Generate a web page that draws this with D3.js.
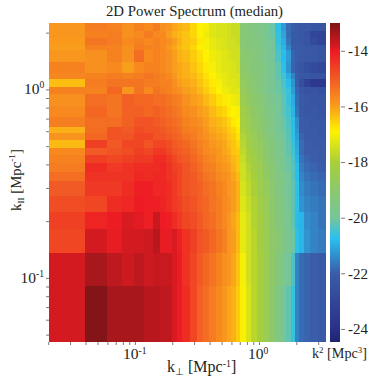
<!DOCTYPE html>
<html lang="en">

	<head>
		<meta charset="utf-8">
		<title>2D Power Spectrum (median)</title>
		<script src="https://d3js.org/d3.v7.min.js"></script>
		<style>
			html, body { margin: 0; padding: 0; background: #fff; }
			svg { display: block; }
			text { font-family: "Liberation Serif", serif; fill: #231f20; }
			.axis path { display: none; }
			.axis line { stroke: #58595b; stroke-width: 0.8; }
		</style>
	</head>

	<body>
		<chart></chart>
		<script>
			// bin edges of the heat map, k_perp left to right, k_par top to bottom
			const kPerpEdges = [0.0203, 0.0396, 0.0594, 0.0792, 0.099, 0.119, 0.139, 0.158, 0.178, 0.198, 0.218, 0.238, 0.277, 0.317, 0.356, 0.396, 0.45, 0.5, 0.55, 0.6, 0.65, 0.703, 0.78, 0.87, 0.97, 1.08, 1.2, 1.35, 1.5, 1.65, 1.8, 1.95, 2.1, 2.3, 2.6, 3.0, 3.47]
			const kParEdges = [2.25, 2.04, 1.876, 1.722, 1.62, 1.40, 1.223, 1.137, 1.031, 0.946, 0.818, 0.715, 0.632, 0.588, 0.540, 0.490, 0.449, 0.407, 0.365, 0.327, 0.272, 0.224, 0.182, 0.136, 0.0907, 0.0457]

			// log10 power, one row per k_par bin (top row first)
			const power = [
				[-15.9,-15.5,-15.6,-15.8,-15.6,-15.7,-15.5,-15.8,-15.9,-16.1,-16.2,-16.3,-16.6,-16.9,-17.0,-17.3,-17.4,-17.4,-17.5,-17.6,-17.6,-19.2,-19.3,-19.5,-19.6,-19.8,-20.1,-20.7,-21.2,-21.8,-22.0,-22.1,-22.2,-22.2,-22.3,-22.3],
				[-15.9,-15.6,-15.5,-15.8,-15.7,-15.5,-15.7,-15.7,-16.0,-16.2,-16.3,-16.4,-16.6,-16.9,-17.1,-17.3,-17.4,-17.4,-17.5,-17.6,-17.6,-19.2,-19.3,-19.4,-19.6,-19.8,-20.1,-20.6,-21.1,-21.8,-22.1,-22.1,-22.2,-22.4,-23.0,-23.1],
				[-15.95,-15.4,-15.5,-15.7,-15.6,-15.7,-15.6,-15.7,-15.8,-16.0,-16.2,-16.4,-16.5,-16.8,-17.0,-17.2,-17.3,-17.4,-17.5,-17.5,-17.6,-19.2,-19.3,-19.4,-19.5,-19.8,-20.0,-20.6,-21.0,-21.7,-22.1,-22.1,-22.2,-22.3,-22.8,-23.1],
				[-16.0,-15.6,-15.6,-15.8,-15.5,-15.6,-15.6,-15.7,-15.9,-16.1,-16.3,-16.4,-16.6,-16.9,-17.0,-17.2,-17.3,-17.4,-17.5,-17.5,-17.5,-19.1,-19.3,-19.4,-19.5,-19.7,-20.0,-20.5,-20.9,-21.5,-22.0,-22.1,-22.1,-22.2,-22.2,-22.3],
				[-15.9,-15.8,-15.6,-15.8,-15.3,-15.7,-15.6,-15.7,-15.8,-16.0,-16.2,-16.3,-16.5,-16.7,-16.9,-17.1,-17.2,-17.3,-17.4,-17.5,-17.5,-19.0,-19.2,-19.3,-19.5,-19.7,-20.0,-20.4,-20.8,-21.2,-21.9,-22.0,-22.1,-22.2,-22.2,-22.3],
				[-15.6,-15.8,-15.7,-16.0,-15.7,-15.6,-15.6,-15.7,-15.8,-16.0,-16.1,-16.2,-16.4,-16.6,-16.8,-17.0,-17.2,-17.3,-17.3,-17.4,-17.5,-18.9,-19.1,-19.3,-19.4,-19.6,-19.9,-20.2,-20.7,-21.3,-21.9,-22.1,-22.3,-22.6,-22.8,-22.9],
				[-15.65,-15.6,-15.5,-15.6,-15.5,-15.4,-15.5,-15.6,-15.7,-15.9,-16.1,-16.2,-16.3,-16.5,-16.7,-16.9,-17.1,-17.2,-17.3,-17.4,-17.4,-18.8,-19.0,-19.2,-19.4,-19.6,-19.9,-20.2,-20.5,-21.0,-21.5,-22.0,-22.2,-22.2,-22.3,-22.4],
				[-16.35,-15.5,-15.4,-15.4,-15.4,-15.5,-15.5,-15.6,-15.6,-15.8,-16.0,-16.1,-16.2,-16.4,-16.6,-16.8,-17.0,-17.2,-17.3,-17.3,-17.4,-18.7,-19.0,-19.2,-19.4,-19.6,-19.9,-20.1,-20.4,-20.8,-21.3,-22.0,-22.6,-23.2,-23.6,-23.7],
				[-15.6,-15.6,-15.2,-15.9,-15.4,-15.7,-15.4,-15.5,-15.6,-15.7,-15.8,-16.0,-16.1,-16.3,-16.5,-16.7,-16.9,-17.1,-17.2,-17.3,-17.3,-18.6,-18.9,-19.1,-19.4,-19.6,-19.9,-20.1,-20.3,-20.6,-21.2,-21.9,-22.2,-22.4,-22.4,-22.5],
				[-15.8,-15.3,-15.4,-15.1,-15.2,-15.2,-15.3,-15.3,-15.4,-15.5,-15.6,-15.8,-16.0,-16.1,-16.3,-16.5,-16.7,-16.8,-17.0,-17.1,-17.2,-18.4,-18.8,-19.0,-19.2,-19.5,-19.8,-20.0,-20.2,-20.6,-21.0,-21.8,-22.1,-22.2,-22.3,-22.3],
				[-15.7,-15.2,-15.4,-15.1,-15.1,-15.2,-15.1,-15.2,-15.3,-15.4,-15.5,-15.7,-15.8,-16.0,-16.1,-16.3,-16.5,-16.6,-16.8,-16.9,-17.0,-18.2,-18.6,-18.9,-19.1,-19.4,-19.7,-20.0,-20.2,-20.5,-20.9,-21.7,-22.1,-22.2,-22.2,-22.3],
				[-15.55,-15.3,-15.3,-15.1,-14.9,-14.9,-15.0,-15.1,-15.2,-15.3,-15.4,-15.6,-15.7,-15.8,-16.0,-16.2,-16.3,-16.4,-16.6,-16.8,-16.9,-18.1,-18.5,-18.8,-19.0,-19.3,-19.6,-19.9,-20.1,-20.4,-20.8,-21.4,-22.0,-22.1,-22.2,-22.2],
				[-16.2,-15.3,-14.9,-15.0,-14.8,-14.9,-14.9,-15.0,-15.1,-15.2,-15.3,-15.5,-15.6,-15.7,-15.9,-16.1,-16.2,-16.3,-16.5,-16.6,-16.8,-18.0,-18.4,-18.7,-19.0,-19.3,-19.6,-19.9,-20.1,-20.3,-20.7,-21.3,-22.0,-22.1,-22.1,-22.2],
				[-15.85,-15.2,-14.9,-14.9,-14.7,-14.7,-14.9,-14.9,-15.0,-15.1,-15.2,-15.4,-15.5,-15.7,-15.8,-16.0,-16.1,-16.2,-16.4,-16.5,-16.7,-17.9,-18.3,-18.6,-18.9,-19.2,-19.5,-19.8,-20.0,-20.3,-20.7,-21.2,-21.9,-22.1,-22.1,-22.2],
				[-16.3,-14.6,-15.0,-14.7,-14.7,-14.9,-14.7,-14.7,-14.8,-15.0,-15.1,-15.2,-15.4,-15.6,-15.7,-15.9,-16.0,-16.1,-16.3,-16.4,-16.6,-17.8,-18.2,-18.5,-18.8,-19.1,-19.4,-19.7,-20.0,-20.2,-20.6,-21.1,-21.8,-22.0,-22.1,-22.1],
				[-15.7,-15.0,-14.9,-14.8,-14.6,-14.7,-14.5,-14.5,-14.7,-14.9,-15.0,-15.1,-15.3,-15.5,-15.7,-15.8,-15.9,-16.1,-16.2,-16.4,-16.5,-17.7,-18.1,-18.4,-18.7,-19.0,-19.4,-19.7,-19.9,-20.2,-20.5,-21.0,-21.8,-22.0,-22.0,-22.1],
				[-15.6,-14.6,-14.7,-14.6,-14.5,-14.5,-14.3,-14.3,-14.5,-14.7,-14.9,-15.0,-15.2,-15.4,-15.6,-15.7,-15.9,-16.0,-16.1,-16.3,-16.4,-17.6,-18.0,-18.3,-18.6,-19.0,-19.3,-19.6,-19.9,-20.1,-20.4,-20.9,-21.7,-21.9,-22.0,-22.1],
				[-15.5,-14.3,-14.5,-14.4,-14.3,-14.3,-14.3,-14.2,-14.4,-14.6,-14.7,-14.9,-15.1,-15.3,-15.5,-15.6,-15.8,-15.9,-16.0,-16.2,-16.4,-17.5,-17.9,-18.2,-18.5,-18.9,-19.2,-19.6,-19.8,-20.1,-20.3,-20.8,-21.6,-21.8,-21.9,-22.0],
				[-15.3,-14.4,-14.4,-14.4,-14.2,-14.3,-14.2,-14.2,-14.4,-14.5,-14.7,-14.9,-15.0,-15.2,-15.4,-15.5,-15.7,-15.8,-15.9,-16.1,-16.3,-17.5,-17.8,-18.1,-18.5,-18.8,-19.2,-19.5,-19.7,-20.0,-20.3,-20.8,-21.5,-21.7,-21.8,-21.9],
				[-15.0,-14.5,-14.5,-14.3,-14.1,-14.1,-14.2,-14.2,-14.3,-14.5,-14.7,-14.9,-15.0,-15.1,-15.3,-15.4,-15.6,-15.7,-15.9,-16.0,-16.2,-17.4,-17.7,-18.0,-18.4,-18.7,-19.1,-19.4,-19.7,-20.0,-20.2,-20.7,-21.4,-21.6,-21.7,-21.8],
				[-14.8,-14.7,-14.3,-14.2,-14.05,-14.1,-14.1,-14.15,-14.3,-14.5,-14.6,-14.8,-14.9,-15.1,-15.2,-15.4,-15.5,-15.7,-15.8,-16.0,-16.2,-17.3,-17.6,-17.9,-18.3,-18.6,-19.0,-19.3,-19.6,-19.9,-20.2,-20.7,-21.3,-21.5,-21.6,-21.7],
				[-14.6,-14.15,-14.05,-13.85,-13.95,-14.1,-13.7,-14.05,-14.1,-14.3,-14.5,-14.7,-14.8,-15.0,-15.2,-15.3,-15.5,-15.7,-15.9,-16.1,-16.3,-17.2,-17.5,-17.9,-18.2,-18.6,-18.9,-19.3,-19.6,-19.8,-20.2,-20.8,-20.9,-21.4,-21.5,-21.7],
				[-14.7,-13.8,-14.0,-13.8,-13.8,-13.75,-13.55,-14.0,-14.0,-13.85,-14.1,-14.4,-14.6,-14.9,-15.0,-15.2,-15.4,-15.6,-15.9,-16.0,-16.3,-17.2,-17.5,-17.8,-18.2,-18.5,-18.9,-19.2,-19.5,-19.8,-20.1,-20.7,-20.9,-21.3,-21.5,-21.6],
				[-13.8,-13.4,-13.6,-13.75,-13.6,-13.75,-13.65,-13.7,-13.7,-13.85,-14.05,-14.4,-14.7,-15.0,-15.2,-15.4,-15.6,-15.8,-15.9,-16.1,-16.4,-17.0,-17.5,-17.8,-18.1,-18.5,-18.9,-19.3,-19.7,-20.0,-20.4,-21.5,-21.8,-21.9,-22.0,-22.1],
				[-13.8,-13.05,-13.4,-13.4,-13.4,-13.55,-13.55,-13.6,-13.6,-13.85,-14.05,-14.3,-14.7,-15.1,-15.3,-15.5,-15.7,-15.9,-16.1,-16.2,-16.5,-16.95,-17.4,-17.8,-18.1,-18.5,-19.0,-19.5,-19.9,-20.2,-20.6,-21.5,-21.8,-21.9,-22.0,-22.1]
			]

			const kPerpTicks = [0.02, 0.03, 0.04, 0.05, 0.06, 0.07, 0.08, 0.09, 0.1, 0.2, 0.3, 0.4, 0.5, 0.6, 0.7, 0.8, 0.9, 1, 2, 3]
			const kParTicks = [0.05, 0.06, 0.07, 0.08, 0.09, 0.1, 0.2, 0.3, 0.4, 0.5, 0.6, 0.7, 0.8, 0.9, 1, 2]
			const powerTicks = [-14, -16, -18, -20, -22, -24]

			const colorStops = [-24.47, -24, -22, -20.75, -20, -19, -18, -16.9, -16, -15, -14.05, -13]
			const colorValues = ['#1c2270', '#2a3088', '#3a5ca9', '#29c0ee', '#76c69a', '#8cc86c', '#a9d039', '#fff200', '#f99d1c', '#f15a24', '#ed1c24', '#7e1416']

			const width = 378, height = 381
			const plot = { left: 49, right: 326, top: 23, bottom: 342 }
			const bar = { left: 330, right: 340 }

			const svg = d3.select('chart').append('svg')
				.attr('width', width)
				.attr('height', height)

			const x = d3.scaleLog().domain([0.0203, 3.47]).range([plot.left, plot.right])
			const y = d3.scaleLog().domain([0.0457, 2.25]).range([plot.bottom, plot.top])
			const cy = d3.scaleLinear().domain([-24.47, -13]).range([plot.bottom, plot.top])
			const color = d3.scaleLinear().domain(colorStops).range(colorValues)

			svg.append('clipPath').attr('id', 'heatClip').append('rect')
				.attr('x', plot.left).attr('y', plot.top)
				.attr('width', plot.right - plot.left).attr('height', plot.bottom - plot.top)

			// heat map, blurred a touch like the reference
			const heat = svg.append('g').attr('clip-path', 'url(#heatClip)')
				.append('g').style('filter', 'blur(0.6px)')

			power.forEach((row, j) => {
				heat.selectAll(null)
					.data(row)
					.join('rect')
					.attr('x', (d, i) => x(kPerpEdges[i]))
					.attr('y', y(kParEdges[j]))
					.attr('width', (d, i) => x(kPerpEdges[i + 1]) - x(kPerpEdges[i]))
					.attr('height', y(kParEdges[j + 1]) - y(kParEdges[j]))
					.attr('shape-rendering', 'crispEdges')
					.attr('fill', d => color(d))
			})

			// colour bar, a gradient through the same stops
			const gradient = svg.append('linearGradient')
				.attr('id', 'barGradient')
				.attr('x1', 0).attr('x2', 0).attr('y1', 1).attr('y2', 0)
			gradient.selectAll('stop')
				.data(colorStops)
				.join('stop')
				.attr('offset', d => (d - colorStops[0]) / (colorStops[colorStops.length - 1] - colorStops[0]))
				.attr('stop-color', d => color(d))

			svg.append('rect')
				.attr('x', bar.left).attr('y', plot.top)
				.attr('width', bar.right - bar.left).attr('height', plot.bottom - plot.top)
				.attr('fill', 'url(#barGradient)')

			// axes
			svg.append('g')
				.attr('class', 'x axis')
				.attr('transform', 'translate(0,' + plot.bottom + ')')
				.call(d3.axisBottom(x).tickValues(kPerpTicks).tickSize(3).tickFormat(''))

			svg.append('g')
				.attr('class', 'y axis')
				.attr('transform', 'translate(' + plot.left + ',0)')
				.call(d3.axisLeft(y).tickValues(kParTicks).tickSize(3).tickFormat(''))

			const barAxis = svg.append('g')
				.attr('class', 'bar axis')
				.attr('transform', 'translate(' + (bar.right + 1) + ',0)')
				.call(d3.axisRight(cy).tickValues(powerTicks).tickSize(4).tickPadding(3).tickFormat(d => '-' + Math.abs(d)))
			barAxis.selectAll('text').style('font-size', '15px').style('font-family', '"Liberation Serif", serif').attr('fill', '#231f20')

			// text with sub and superscripts; parts are [string, 'sup' | 'sub' | undefined]
			function label(parent, parts, size) {
				const t = parent.append('text').style('font-size', size + 'px')
				let shift = 0
				parts.forEach(([s, kind]) => {
					const target = kind === 'sup' ? -5.5 : kind === 'sub' ? 3 : 0
					t.append('tspan')
						.attr('dy', target - shift)
						.style('font-size', (kind ? size * 0.62 : size) + 'px')
						.text(s)
					shift = target
				})
				return t
			}

			label(svg, [['2D Power Spectrum (median)']], 14.8)
				.attr('x', 194.5).attr('y', 16).attr('text-anchor', 'middle')

			label(svg, [['10'], ['-1', 'sup']], 15.5).attr('x', 123).attr('y', 359)
			label(svg, [['10'], ['0', 'sup']], 15.5).attr('x', 248).attr('y', 359)
			label(svg, [['10'], ['0', 'sup']], 15.5).attr('x', 24).attr('y', 93.5)
			label(svg, [['10'], ['-1', 'sup']], 15.5).attr('x', 20.5).attr('y', 282.5)

			label(svg, [['k'], ['\u22a5', 'sub'], [' [Mpc'], ['-1', 'sup'], [']']], 16)
				.attr('x', 167).attr('y', 372)

			label(svg, [['k'], ['II', 'sub'], [' [Mpc'], ['-1', 'sup'], [']']], 14.8)
				.attr('transform', 'translate(20.5,211) rotate(-90)')

			label(svg, [['k'], ['2', 'sup'], [' [Mpc'], ['3', 'sup'], [']']], 14.2)
				.attr('x', 312).attr('y', 358)
		</script>
	</body>

</html>
